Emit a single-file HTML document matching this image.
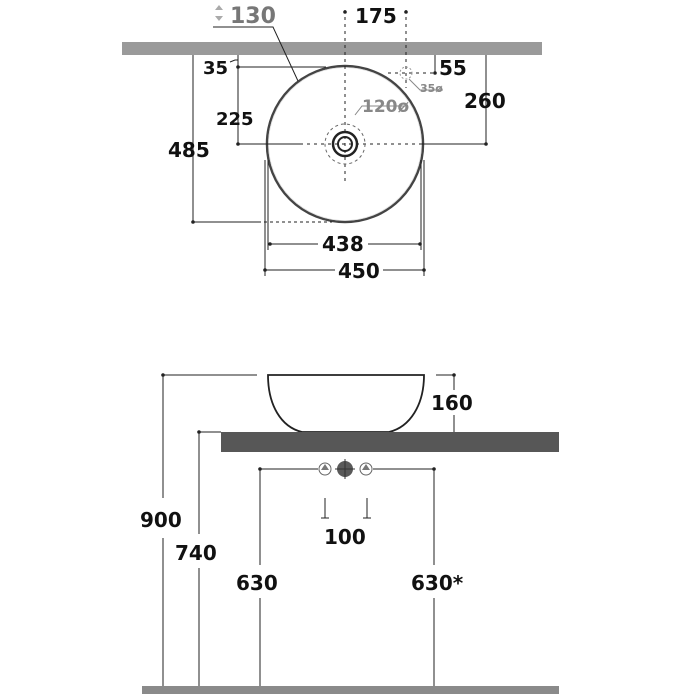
<!DOCTYPE html>
<html><head><meta charset="utf-8"><style>
html,body{margin:0;padding:0;background:#fff;}
svg{display:block}
text{font-family:"DejaVu Sans","Liberation Sans",sans-serif;font-weight:bold;}
</style></head><body>
<svg width="700" height="700" viewBox="0 0 700 700" xmlns="http://www.w3.org/2000/svg">
<rect width="700" height="700" fill="#fff"/>
<g stroke="#222" stroke-width="1" fill="none">
<rect x="122" y="42" width="420" height="13" fill="#9a9a9a" stroke="none"/>
<circle cx="345" cy="144" r="78" stroke="#444" stroke-width="2.5"/>
<circle cx="345" cy="144" r="76.5" stroke="#ddd" stroke-width="0.8"/>
<line x1="345" y1="10" x2="345" y2="183" stroke-dasharray="3,4"/>
<line x1="238" y1="144" x2="300" y2="144"/>
<line x1="300" y1="144" x2="420" y2="144" stroke-dasharray="3,4"/>
<line x1="420" y1="144" x2="486" y2="144"/>
<line x1="406" y1="10" x2="406" y2="88" stroke-dasharray="3,4"/>
<line x1="388" y1="73" x2="436" y2="73" stroke-dasharray="3,4"/>
<circle cx="406" cy="73" r="6" stroke="#999" stroke-dasharray="2,2"/>
<circle cx="345" cy="144" r="20" stroke="#666" stroke-dasharray="3,3"/>
<circle cx="345" cy="144" r="12" stroke-width="2.5"/>
<circle cx="345" cy="144" r="7" stroke-width="2"/>
<polyline points="213,27 273,27 298,81" stroke-width="1"/>
<line x1="238" y1="55" x2="238" y2="144"/>
<line x1="238" y1="67" x2="326" y2="67"/>
<path d="M230,62 l5,-2 h3"/>
<line x1="193" y1="55" x2="193" y2="222"/>
<line x1="193" y1="222" x2="258" y2="222"/>
<line x1="258" y1="222" x2="332" y2="222" stroke-dasharray="3,3"/>
<line x1="435" y1="55" x2="435" y2="73"/>
<line x1="486" y1="55" x2="486" y2="144"/>
<polyline points="409,79 420,90 443,90" stroke="#888"/>
<polyline points="355,115 362,106 405,106" stroke="#888"/>
<line x1="268" y1="160" x2="268" y2="250"/>
<line x1="421" y1="160" x2="421" y2="250"/>
<line x1="265" y1="160" x2="265" y2="276"/>
<line x1="424" y1="160" x2="424" y2="276"/>
<line x1="270" y1="244" x2="318" y2="244"/>
<line x1="368" y1="244" x2="420" y2="244"/>
<line x1="265" y1="270" x2="335" y2="270"/>
<line x1="383" y1="270" x2="424" y2="270"/>
</g>
<g fill="#222">
<circle cx="345" cy="12" r="1.8"/><circle cx="406" cy="12" r="1.8"/>
<circle cx="238" cy="67" r="1.8"/><circle cx="238" cy="144" r="1.8"/>
<circle cx="193" cy="222" r="1.8"/><circle cx="435" cy="73" r="1.8"/>
<circle cx="486" cy="144" r="1.8"/>
<circle cx="270" cy="244" r="1.8"/><circle cx="420" cy="244" r="1.8"/>
<circle cx="265" cy="270" r="1.8"/><circle cx="424" cy="270" r="1.8"/>
</g>
<text x="230" y="23" font-size="22" fill="#777">130</text>
<path d="M219,5 l4,5 h-8z M219,21 l4,-5 h-8z" fill="#aaa"/>
<text x="355" y="23" font-size="20" fill="#111">175</text>
<text x="203" y="74" font-size="18" fill="#111">35</text>
<text x="439" y="75" font-size="20" fill="#111">55</text>
<text x="420" y="92" font-size="11" fill="#888">35ø</text>
<text x="362" y="112" font-size="17" fill="#888">120ø</text>
<text x="464" y="108" font-size="20" fill="#111">260</text>
<text x="216" y="125" font-size="18" fill="#111">225</text>
<text x="168" y="157" font-size="20" fill="#111">485</text>
<text x="322" y="251" font-size="20" fill="#111">438</text>
<text x="338" y="278" font-size="20" fill="#111">450</text>

<g stroke="#222" stroke-width="1" fill="none">
<path d="M268,375 L424,375 C424,405 410,427 389,432 L302,432 C281,427 268,405 268,375Z" stroke-width="1.8"/>
<line x1="163" y1="375" x2="257" y2="375"/>
<line x1="436" y1="375" x2="454" y2="375"/>
<line x1="454" y1="375" x2="454" y2="390"/>
<line x1="454" y1="415" x2="454" y2="432"/>
<line x1="163" y1="375" x2="163" y2="498"/>
<line x1="163" y1="538" x2="163" y2="686"/>
<line x1="199" y1="432" x2="221" y2="432"/>
<line x1="199" y1="432" x2="199" y2="534"/>
<line x1="199" y1="568" x2="199" y2="686"/>
<line x1="260" y1="469" x2="318" y2="469"/>
<line x1="373" y1="469" x2="434" y2="469"/>
<line x1="260" y1="469" x2="260" y2="565"/>
<line x1="260" y1="598" x2="260" y2="686"/>
<line x1="434" y1="469" x2="434" y2="565"/>
<line x1="434" y1="598" x2="434" y2="686"/>
<line x1="325" y1="498" x2="325" y2="518"/>
<line x1="367" y1="498" x2="367" y2="518"/>
<line x1="321" y1="518" x2="329" y2="518"/>
<line x1="363" y1="518" x2="371" y2="518"/>
<circle cx="325" cy="469" r="6" stroke="#666"/>
<circle cx="366" cy="469" r="6" stroke="#666"/>
</g>
<rect x="221" y="432" width="338" height="20" fill="#575757"/>
<rect x="142" y="686" width="417" height="8" fill="#8a8a8a"/>
<circle cx="345" cy="469" r="8" fill="#5a5a5a"/>
<path d="M345,459v20M335,469h20" stroke="#333" stroke-width="1"/>
<path d="M325,464 l4,6 h-8z M366,464 l4,6 h-8z" fill="#777"/>
<g fill="#222">
<circle cx="163" cy="375" r="1.8"/><circle cx="454" cy="375" r="1.8"/>
<circle cx="199" cy="432" r="1.8"/><circle cx="260" cy="469" r="1.8"/>
<circle cx="434" cy="469" r="1.8"/>
</g>
<text x="431" y="410" font-size="20" fill="#111">160</text>
<text x="140" y="527" font-size="20" fill="#111">900</text>
<text x="175" y="560" font-size="20" fill="#111">740</text>
<text x="236" y="590" font-size="20" fill="#111">630</text>
<text x="411" y="590" font-size="20" fill="#111">630*</text>
<text x="324" y="544" font-size="20" fill="#111">100</text>
</svg>
</body></html>
